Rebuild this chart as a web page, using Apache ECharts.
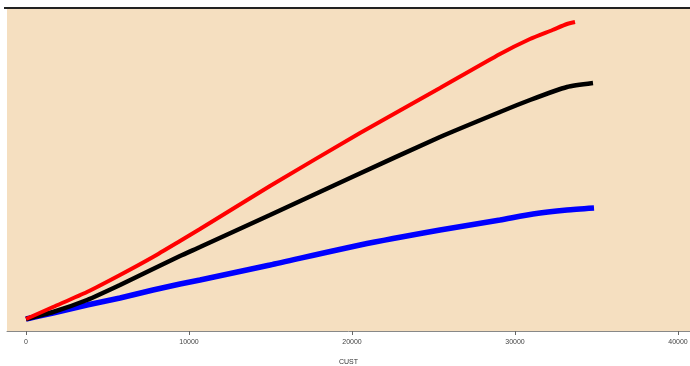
<!DOCTYPE html>
<html>
<head>
<meta charset="utf-8">
<script src="https://cdn.jsdelivr.net/npm/echarts@6/dist/echarts.min.js"></script>
<style>html,body{margin:0;padding:0;background:#fff;}#c{width:690px;height:366px;}</style>
</head>
<body>
<div id="c"></div>
<script>
const xTicks = [0, 10000, 20000, 30000, 40000];
const redX = [0, 1656, 3742, 5767, 7791, 9448, 10675, 14969, 20491, 25399, 29080, 30920, 32300, 33190, 33681];
const redY = [1, 13, 28, 45, 63, 79, 91, 134, 187, 232, 266, 281, 290, 296, 298];
const blackX = [0, 1656, 3742, 5767, 7791, 9448, 10675, 14969, 19877, 25399, 29080, 30920, 33190, 34785];
const blackY = [1, 8, 20, 35, 51, 64, 73, 105, 142, 183, 208, 220, 233, 237];
const blueX = [0, 1656, 3742, 5767, 7791, 9448, 10675, 14969, 20491, 25399, 29080, 31104, 33190, 34847];
const blueY = [1, 7, 15, 22, 30, 36, 40, 55, 75, 90, 100, 106, 110, 112];

const zip = (xs, ys) => xs.map((x, i) => [x, ys[i]]);
const chart = echarts.init(document.getElementById('c'), null, {renderer: 'canvas'});
chart.setOption({
  animation: false,
  backgroundColor: '#ffffff',
  grid: {left: 7, right: 0, top: 9, bottom: 35, show: true, backgroundColor: '#F5DFC0', borderWidth: 0,
    containLabel: false, outerBoundsMode: 'none'},
  graphic: [{type: 'rect', shape: {x: 4, y: 7, width: 686, height: 2}, style: {fill: '#222'}, z: 10}],
  xAxis: {
    type: 'value', min: -1166, max: 40736,
    name: 'CUST', nameLocation: 'middle', nameGap: 28,
    nameTextStyle: {fontSize: 7, color: '#333', fontFamily: 'Liberation Sans'},
    axisLine: {show: true, onZero: false, lineStyle: {color: '#888', width: 1}},
    axisTick: {show: true, customValues: xTicks, length: 4, lineStyle: {color: '#666'}},
    axisLabel: {customValues: xTicks, fontSize: 7, color: '#444', margin: 8, fontFamily: 'Liberation Sans',
      formatter: v => String(v)},
    splitLine: {show: false}
  },
  yAxis: {type: 'value', min: -11, max: 311, show: false, splitLine: {show: false}},
  series: [
    {type: 'line', data: zip(blueX, blueY), showSymbol: false, smooth: 0.2, lineStyle: {color: '#0000FF', width: 5.5}, z: 2},
    {type: 'line', data: zip(blackX, blackY), showSymbol: false, smooth: 0.2, lineStyle: {color: '#000000', width: 4.5}, z: 3},
    {type: 'line', data: zip(redX, redY), showSymbol: false, smooth: 0.2, lineStyle: {color: '#FF0000', width: 4}, z: 4}
  ]
});
</script>
</body>
</html>
